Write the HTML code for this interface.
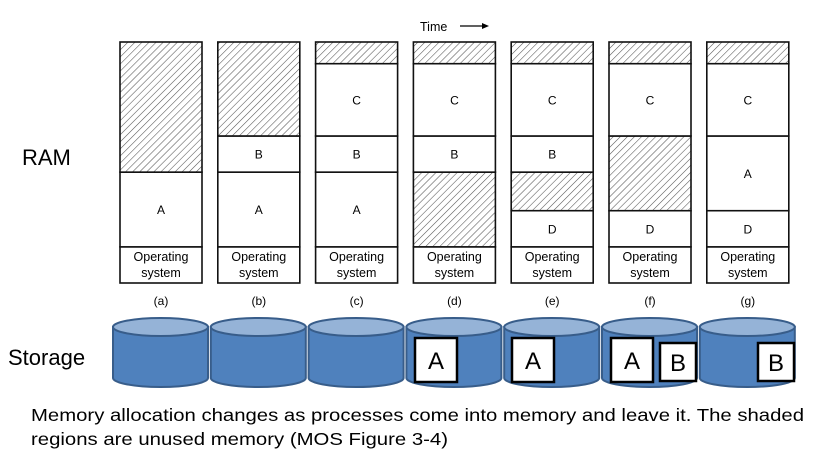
<!DOCTYPE html>
<html><head><meta charset="utf-8"><style>
html,body{margin:0;padding:0;background:#fff;width:826px;height:462px;overflow:hidden}
svg{display:block}
</style></head><body>
<svg id="chart" width="826" height="462" viewBox="0 0 826 462" xmlns="http://www.w3.org/2000/svg">
<defs>
<pattern id="hatch" patternUnits="userSpaceOnUse" width="5" height="5" patternTransform="rotate(45)">
<rect width="5" height="5" fill="#fff"/><line x1="0" y1="0" x2="0" y2="5" stroke="#555" stroke-width="1.1"/>
</pattern>
</defs>
<text x="420" y="31" font-family="Liberation Sans, sans-serif" font-size="12.5">Time</text>
<line x1="460" y1="26" x2="484" y2="26" stroke="#000" stroke-width="1.2"/>
<polygon points="489,26 482,23 482,29" fill="#000"/>
<text x="22" y="165" font-family="Liberation Sans, sans-serif" font-size="22">RAM</text>
<text x="8" y="365" font-family="Liberation Sans, sans-serif" font-size="22">Storage</text>
<text x="31" y="421" font-family="Liberation Sans, sans-serif" font-size="17.5" textLength="773" lengthAdjust="spacingAndGlyphs">Memory allocation changes as processes come  into memory and leave it. The shaded</text>
<text x="31" y="445" font-family="Liberation Sans, sans-serif" font-size="17.5" textLength="417" lengthAdjust="spacingAndGlyphs">regions are unused memory (MOS Figure  3-4)</text>
<g id="cols"></g>
<g id="disks"></g>
</svg>
<script>
const columns = ['(a)','(b)','(c)','(d)','(e)','(f)','(g)'];
// segments per column: [label, start, end] in memory units (0..100); 'free' = hatched
const segments = [
  [['OS',0,15],['A',15,46],['free',46,100]],
  [['OS',0,15],['A',15,46],['B',46,61],['free',61,100]],
  [['OS',0,15],['A',15,46],['B',46,61],['C',61,91],['free',91,100]],
  [['OS',0,15],['free',15,46],['B',46,61],['C',61,91],['free',91,100]],
  [['OS',0,15],['D',15,30],['free',30,46],['B',46,61],['C',61,91],['free',91,100]],
  [['OS',0,15],['D',15,30],['free',30,61],['C',61,91],['free',91,100]],
  [['OS',0,15],['D',15,30],['A',30,61],['C',61,91],['free',91,100]]
];
const storage = [[],[],[],['A'],['A'],['A','B'],['B']];
const NS='http://www.w3.org/2000/svg';
const yM = v => 283 - v*2.41;
const xC = i => 120 + i*97.8;
const W = 82;
function el(tag, attrs, parent){const e=document.createElementNS(NS,tag);for(const k in attrs)e.setAttribute(k,attrs[k]);parent.appendChild(e);return e;}
const cols=document.getElementById('cols');
columns.forEach((c,i)=>{
  const g=el('g',{},cols);
  
  
  const x=xC(i);
  segments[i].forEach(s=>{
    const y1=yM(s[2]), y2=yM(s[1]);
    const r=el('rect',{x:x,y:y1,width:W,height:y2-y1,fill:s[0]==='free'?'url(#hatch)':'#fff',stroke:'#111','stroke-width':1.6},g);
    
    
    if(s[0]==='OS'){
      const t1=el('text',{x:x+W/2,y:y1+14,'text-anchor':'middle','font-family':'Liberation Sans, sans-serif','font-size':12.5},g);t1.textContent='Operating';
      
      
      const t2=el('text',{x:x+W/2,y:y1+30,'text-anchor':'middle','font-family':'Liberation Sans, sans-serif','font-size':12.5},g);t2.textContent='system';
      
      
    } else if(s[0]!=='free'){
      const t=el('text',{x:x+W/2,y:(y1+y2)/2+4.5,'text-anchor':'middle','font-family':'Liberation Sans, sans-serif','font-size':12},g);t.textContent=s[0];
      
      
    }
  });
  const cl=el('text',{x:x+W/2,y:305,'text-anchor':'middle','font-family':'Liberation Sans, sans-serif','font-size':12},g);cl.textContent=c;
  
  
});
const disks=document.getElementById('disks');
storage.forEach((items,i)=>{
  const g=el('g',{},disks);
  
  
  const x=113+i*97.8, w=95, cx=x+w/2, top=327, bot=378, ry=9;
  el('path',{d:`M${x},${top} L${x},${bot} A${w/2},${ry} 0 0 0 ${x+w},${bot} L${x+w},${top} Z`,fill:'#4f81bd',stroke:'#385d8a','stroke-width':2},g);
  el('ellipse',{cx:cx,cy:top,rx:w/2,ry:ry,fill:'#95b3d7',stroke:'#385d8a','stroke-width':2},g);
  items.forEach((it,j)=>{
    let bx,by,bw,bh;
    if(it==='A'){bx=x+2+ (i===6?0:0);by=338;bw=42;bh=44;bx=xC(i)-5+0;}
    if(it==='A'){bx=[0,0,0,415,512,611,0][i];}
    if(it==='B'){bx=[0,0,0,0,0,660,758][i];by=343;bw=36;bh=38;}
    const b=el('rect',{x:bx,y:by,width:bw,height:bh,fill:'#fff',stroke:'#000','stroke-width':2.5},g);
    
    
    const t=el('text',{x:bx+bw/2,y:by+bh/2+9,'text-anchor':'middle','font-family':'Liberation Sans, sans-serif','font-size':24},g);t.textContent=it;
    
    
  });
});
</script>
</body></html>
